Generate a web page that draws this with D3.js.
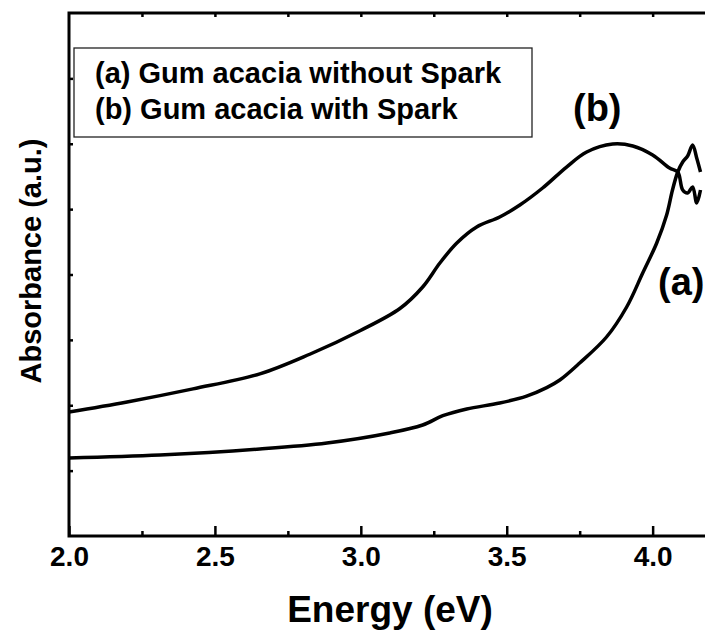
<!DOCTYPE html>
<html>
<head>
<meta charset="utf-8">
<script src="https://cdnjs.cloudflare.com/ajax/libs/d3/7.8.5/d3.min.js"></script>
<style>
  body { margin: 0; background: #fff; }
  text { font-family: "Liberation Sans", Arial, sans-serif; font-weight: bold; }
</style>
</head>
<body>
<div id="chart"></div>
<script>
// data (energy in eV, absorbance in arbitrary units)
var energyA = [2.000, 2.312, 2.654, 2.884, 3.099, 3.212, 3.281, 3.363, 3.476, 3.568, 3.637, 3.682,
  3.750, 3.842, 3.911, 3.966, 4.014, 4.048, 4.068, 4.086, 4.103, 4.120, 4.137, 4.151, 4.164];
var absA = [1.193, 1.239, 1.331, 1.423, 1.576, 1.698, 1.840, 1.943, 2.034, 2.140, 2.270, 2.386,
  2.646, 3.044, 3.503, 4.023, 4.482, 4.910, 5.293, 5.568, 5.721, 5.813, 5.981, 5.782, 5.568];

var energyB = [2.000, 2.199, 2.425, 2.654, 2.825, 2.997, 3.134, 3.212, 3.271, 3.329, 3.397, 3.476,
  3.545, 3.623, 3.705, 3.774, 3.863, 3.932, 4.000, 4.058, 4.086, 4.103, 4.120, 4.137, 4.151, 4.164];
var absB = [1.897, 2.050, 2.250, 2.480, 2.780, 3.140, 3.480, 3.809, 4.176, 4.482, 4.727, 4.880,
  5.063, 5.323, 5.644, 5.874, 5.996, 5.966, 5.828, 5.629, 5.568, 5.293, 5.247, 5.338, 5.094, 5.293];

var xMajor = [2.0, 2.5, 3.0, 3.5, 4.0];
var xMinor = [2.25, 2.75, 3.25, 3.75];
var xTop = [2.25, 2.5, 2.75, 3.0, 3.25, 3.5, 3.75, 4.0];
var yTicks = [1, 2, 3, 4, 5, 6, 7];

var legendLines = ["(a) Gum acacia without Spark", "(b) Gum acacia with Spark"];

var svgWidth = 705, svgHeight = 632;
var margin = { top: 13, left: 69 };
var width = 642;   // right edge falls just outside the picture
var height = 523;

var svg = d3.select("#chart").append("svg")
  .attr("width", svgWidth)
  .attr("height", svgHeight);

svg.append("rect").attr("width", svgWidth).attr("height", svgHeight).attr("fill", "#fff");

var g = svg.append("g").attr("transform", `translate(${margin.left}, ${margin.top})`);

var x = d3.scaleLinear().domain([2.0, 4.2]).range([0, width]);
var y = d3.scaleLinear().domain([0, 8]).range([height, 0]);

// axes
var bottomMajor = g.append("g")
  .attr("transform", `translate(0, ${height})`)
  .call(d3.axisBottom(x).tickValues(xMajor).tickSize(-10).tickPadding(10).tickFormat(d3.format(".1f")));
bottomMajor.selectAll("text").attr("font-size", 28).attr("fill", "#000")
  .style("font-family", "'Liberation Sans', Arial, sans-serif");

g.append("g")
  .attr("transform", `translate(0, ${height})`)
  .call(d3.axisBottom(x).tickValues(xMinor).tickSize(-5).tickFormat(""));

g.append("g")
  .call(d3.axisTop(x).tickValues(xTop).tickSize(-4).tickFormat(""));

g.append("g")
  .call(d3.axisLeft(y).tickValues(yTicks).tickSize(-4).tickFormat(""));

g.selectAll(".domain").remove();
g.selectAll(".tick line").attr("stroke", "#000").attr("stroke-width", 2.5);

// frame
g.append("rect")
  .attr("width", width)
  .attr("height", height)
  .attr("fill", "none")
  .attr("stroke", "#000")
  .attr("stroke-width", 3);

// curves
var line = d3.line()
  .x(d => x(d[0]))
  .y(d => y(d[1]))
  .curve(d3.curveCatmullRom.alpha(0.5));

var seriesA = energyA.map((e, i) => [e, absA[i]]);
var seriesB = energyB.map((e, i) => [e, absB[i]]);

[seriesA, seriesB].forEach(function(s) {
  g.append("path")
    .datum(s)
    .attr("d", line)
    .attr("fill", "none")
    .attr("stroke", "#000")
    .attr("stroke-width", 3.5)
    .attr("stroke-linejoin", "round");
});

// curve labels
svg.append("text").attr("x", 573).attr("y", 121).attr("font-size", 38).text("(b)");
svg.append("text").attr("x", 658).attr("y", 295).attr("font-size", 38).text("(a)");

// legend
svg.append("rect")
  .attr("x", 74).attr("y", 48)
  .attr("width", 458).attr("height", 89)
  .attr("fill", "#fff")
  .attr("stroke", "#222")
  .attr("stroke-width", 1.3);

svg.selectAll(".legendText")
  .data(legendLines)
  .enter()
  .append("text")
  .attr("class", "legendText")
  .attr("x", 95)
  .attr("y", (d, i) => 83 + i * 36)
  .attr("font-size", 29)
  .text(d => d);

// axis titles
svg.append("text")
  .attr("x", 390).attr("y", 622)
  .attr("text-anchor", "middle")
  .attr("font-size", 37)
  .text("Energy (eV)");

svg.append("text")
  .attr("transform", "translate(41, 261) rotate(-90)")
  .attr("text-anchor", "middle")
  .attr("font-size", 29)
  .text("Absorbance (a.u.)");
</script>
</body>
</html>
